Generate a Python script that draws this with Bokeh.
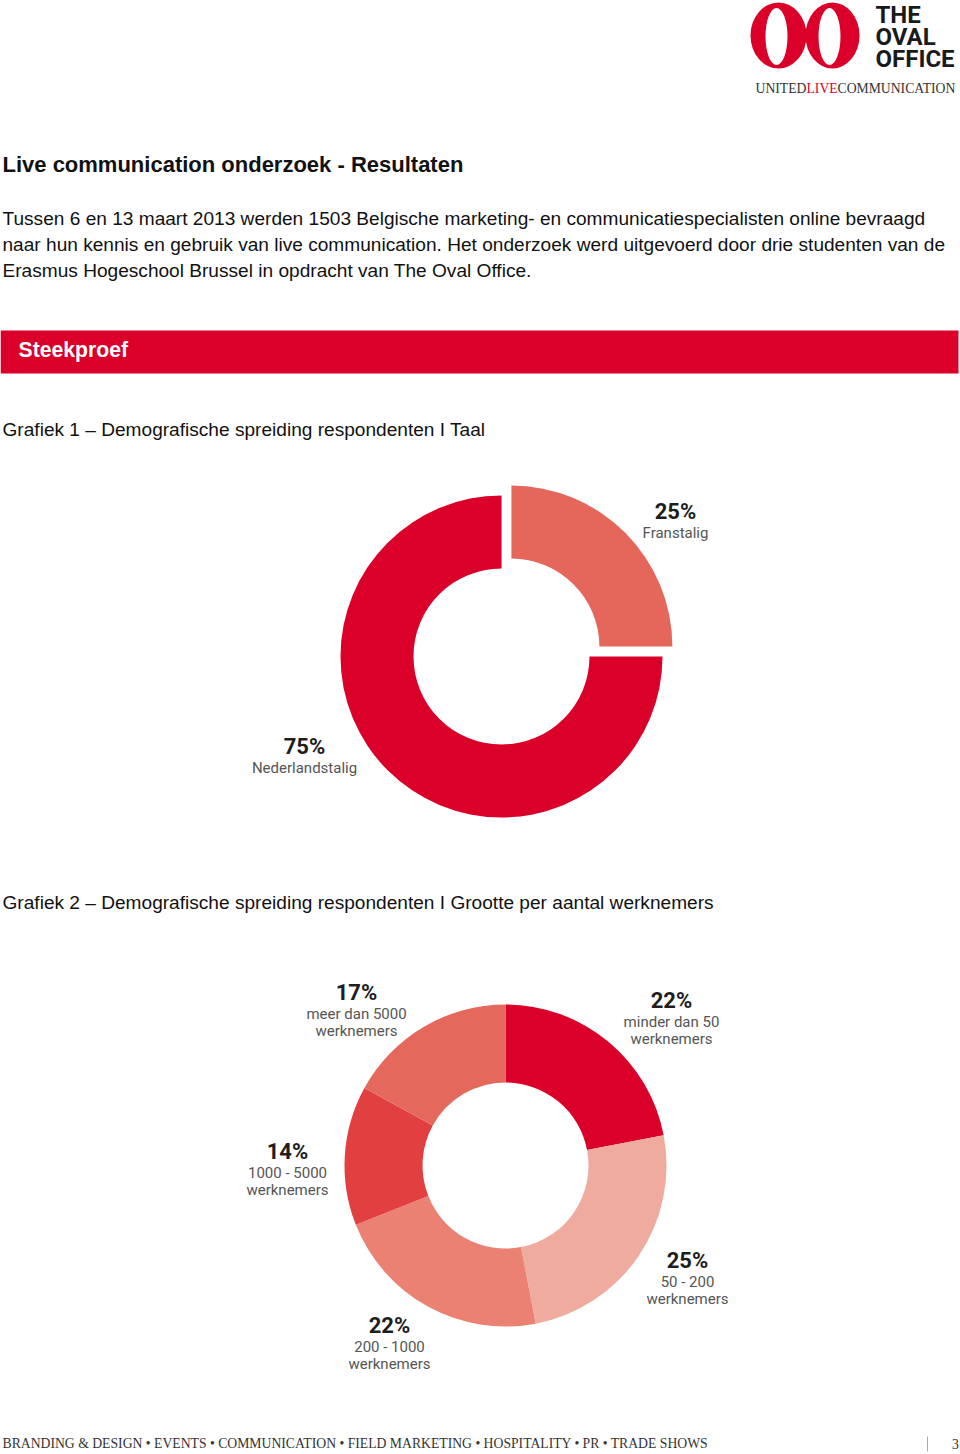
import math
from bokeh.plotting import figure
from bokeh.models import Range1d
from bokeh.core.properties import value
from bokeh.embed import file_html
from bokeh.resources import INLINE

# ---------------- data ----------------
lang_labels = ["Franstalig", "Nederlandstalig"]
lang_values = [25, 75]
lang_colors = ["#E5675C", "#DA0029"]

size_labels_1 = ["minder dan 50", "50 - 200", "200 - 1000", "1000 - 5000", "meer dan 5000"]
size_labels_2 = ["werknemers", "werknemers", "werknemers", "werknemers", "werknemers"]
size_values = [22, 25, 22, 14, 17]
size_colors = ["#DA0029", "#F0AB9F", "#EA8173", "#E13F40", "#E5685D"]

title = "Live communication onderzoek - Resultaten"
intro_lines = [
    "Tussen 6 en 13 maart 2013 werden 1503 Belgische marketing- en communicatiespecialisten online bevraagd",
    "naar hun kennis en gebruik van live communication. Het onderzoek werd uitgevoerd door drie studenten van de",
    "Erasmus Hogeschool Brussel in opdracht van The Oval Office.",
]
section = "Steekproef"
chart1_title = "Grafiek 1 \u2013 Demografische spreiding respondenten I Taal"
chart2_title = "Grafiek 2 \u2013 Demografische spreiding respondenten I Grootte per aantal werknemers"
footer = "BRANDING & DESIGN \u2022 EVENTS \u2022 COMMUNICATION \u2022 FIELD MARKETING \u2022 HOSPITALITY \u2022 PR \u2022 TRADE SHOWS"
page_number = "3"
logo_words = ["THE", "OVAL", "OFFICE"]
tagline = ["UNITED", "LIVE", "COMMUNICATION"]

# ---------------- layout ----------------
W, H = 960, 1454
RED = "#DA0029"


def Y(y):
    return H - y


p = figure(width=W, height=H, x_range=Range1d(0, W), y_range=Range1d(0, H),
           output_backend="svg", toolbar_location=None, min_border=0)
p.axis.visible = False
p.grid.visible = False
p.outline_line_color = None
p.background_fill_color = "white"
p.border_fill_color = "white"

ARIAL = value("Liberation Sans")
DIN = value("Roboto")
SERIF = value("Liberation Serif")

# ---- logo ----
p.ellipse(x=[778, 832], y=[Y(35), Y(35)], width=[56, 54], height=[66, 66],
          fill_color=RED, line_color=None)
p.ellipse(x=[776, 829], y=[Y(36), Y(36)], width=[22, 22], height=[57, 57],
          fill_color="white", line_color=None)
p.text(x=[875, 875, 875], y=[Y(14.5), Y(36.5), Y(58.5)], text=logo_words,
       text_font=DIN, text_font_style="bold", text_font_size="24px",
       text_color="#1a1a1a", text_baseline="middle", text_align="left")
p.text(x=[755, 837], y=[Y(88), Y(88)], text=[tagline[0], tagline[2]], text_font=SERIF,
       text_font_size="13.7px", text_color="#333333", text_baseline="middle", text_align="left")
p.text(x=[806], y=[Y(88)], text=[tagline[1]], text_font=SERIF, text_font_size="13.7px",
       text_color=RED, text_baseline="middle", text_align="left")

# ---- heading and intro ----
p.text(x=[2], y=[Y(164)], text=[title], text_font=ARIAL, text_font_style="bold",
       text_font_size="22px", text_color="#111111", text_baseline="middle", text_align="left")
p.text(x=[2, 2, 2], y=[Y(218), Y(244), Y(270)], text=intro_lines, text_font=ARIAL,
       text_font_size="19.1px", text_color="#111111", text_baseline="middle", text_align="left")

# ---- banner ----
p.quad(left=[0], right=[958], top=[Y(330)], bottom=[Y(373)], fill_color=RED, line_color=None)
p.text(x=[18], y=[Y(349)], text=[section], text_font=ARIAL, text_font_style="bold",
       text_font_size="21.2px", text_color="white", text_baseline="middle", text_align="left")

p.text(x=[2], y=[Y(429)], text=[chart1_title], text_font=ARIAL, text_font_size="19.1px",
       text_color="#111111", text_baseline="middle", text_align="left")
p.text(x=[2], y=[Y(902)], text=[chart2_title], text_font=ARIAL, text_font_size="19.1px",
       text_color="#111111", text_baseline="middle", text_align="left")


def donut(values, colors, cx, cy, r_in, r_out, explode):
    total = float(sum(values))
    cum = 0.0
    xs, ys, starts, ends = [], [], [], []
    for v, ex in zip(values, explode):
        a0 = math.pi / 2 - 2 * math.pi * cum / total
        cum += v
        a1 = math.pi / 2 - 2 * math.pi * cum / total
        mid = (a0 + a1) / 2
        xs.append(cx + ex * math.cos(mid))
        ys.append(cy + ex * math.sin(mid))
        starts.append(a1)
        ends.append(a0)
    p.annular_wedge(x=xs, y=ys, inner_radius=r_in, outer_radius=r_out,
                    start_angle=starts, end_angle=ends, fill_color=colors,
                    line_color=None)


# ---- chart 1 ----
donut(lang_values, lang_colors, 501, Y(656), 88, 161, [14, 0])
lang_pos = [(675, 511), (304, 746)]
for (lx, ly), lab, v in zip(lang_pos, lang_labels, lang_values):
    p.text(x=[lx], y=[Y(ly)], text=[f"{v}%"], text_font=DIN, text_font_size="22px",
           text_font_style="bold", text_color="#1e1e1e", text_baseline="middle", text_align="center")
    p.text(x=[lx], y=[Y(ly + 21)], text=[lab], text_font=DIN, text_font_size="15px",
           text_color="#555555", text_baseline="middle", text_align="center")

# ---- chart 2 ----
donut(size_values, size_colors, 505, Y(1165), 83, 161, [0, 0, 0, 0, 0])
size_pos = [(671, 1000), (687, 1260), (389, 1325), (287, 1151), (356, 992)]
for (lx, ly), l1, l2, v in zip(size_pos, size_labels_1, size_labels_2, size_values):
    p.text(x=[lx], y=[Y(ly)], text=[f"{v}%"], text_font=DIN, text_font_size="22px",
           text_font_style="bold", text_color="#1e1e1e", text_baseline="middle", text_align="center")
    p.text(x=[lx, lx], y=[Y(ly + 21), Y(ly + 38)], text=[l1, l2], text_font=DIN,
           text_font_size="15px", text_color="#555555", text_baseline="middle", text_align="center")

# ---- footer ----
p.text(x=[2], y=[Y(1443)], text=[footer], text_font=SERIF, text_font_size="13.7px",
       text_color="#333333", text_baseline="middle", text_align="left")
p.segment(x0=[927], y0=[Y(1436)], x1=[927], y1=[Y(1451)], line_color="#aaaaaa", line_width=1)
p.text(x=[955], y=[Y(1443)], text=[page_number], text_font=SERIF, text_font_size="13.7px",
       text_color="#333333", text_baseline="middle", text_align="center")

open("out.html", "w").write(file_html(p, INLINE))
